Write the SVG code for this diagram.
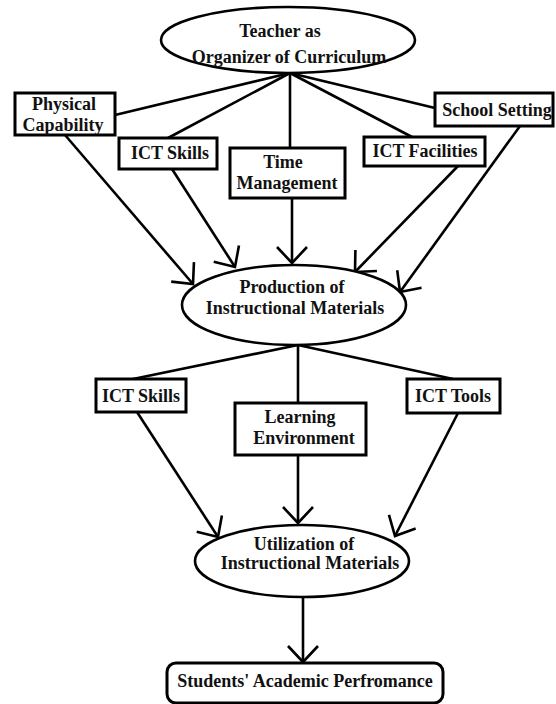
<svg xmlns="http://www.w3.org/2000/svg" width="556" height="704" viewBox="0 0 556 704">
  <defs>
    <marker id="vee" markerUnits="userSpaceOnUse" markerWidth="40" markerHeight="40" viewBox="-20 -20 40 40" refX="0" refY="0" orient="auto">
      <path d="M -16 -15 L 0 0 L -16 15" fill="none" stroke="#000" stroke-width="2.6" stroke-linejoin="miter"/>
    </marker>
  </defs>
  <style>
    .box { fill: #fff; stroke: #000; stroke-width: 3; }
    .oval { fill: #fff; stroke: #000; stroke-width: 2.6; }
    .lbl { font-family: "Liberation Serif", "Times New Roman", serif; font-weight: bold; font-size: 18px; fill: #111; text-anchor: middle; }
    .edge { fill: none; stroke: #000; stroke-width: 2.6; }
    .arrow { marker-end: url(#vee); }
  </style>
  <rect width="556" height="704" fill="#fff"/>

  <!-- connectors -->
  <g id="connectors">
    <!-- fan out from the organizer -->
    <line class="edge" x1="290" y1="73" x2="115" y2="115"/>
    <line class="edge" x1="290" y1="73" x2="168" y2="138"/>
    <line class="edge" x1="290" y1="73" x2="290" y2="148"/>
    <line class="edge" x1="290" y1="73" x2="412" y2="137"/>
    <line class="edge" x1="290" y1="73" x2="435" y2="108"/>
    <!-- factors into production -->
    <line class="edge arrow" x1="65" y1="135" x2="193" y2="284"/>
    <line class="edge arrow" x1="172" y1="169" x2="235" y2="267"/>
    <line class="edge arrow" x1="292" y1="198" x2="292" y2="263"/>
    <line class="edge arrow" x1="458" y1="166" x2="355" y2="272"/>
    <line class="edge arrow" x1="520" y1="126" x2="400" y2="292"/>
    <!-- fan out from production -->
    <line class="edge" x1="298" y1="345" x2="133" y2="379"/>
    <line class="edge" x1="298" y1="345" x2="298" y2="403"/>
    <line class="edge" x1="298" y1="345" x2="453" y2="379"/>
    <!-- factors into utilization -->
    <line class="edge arrow" x1="137" y1="412" x2="218" y2="537"/>
    <line class="edge arrow" x1="298" y1="455" x2="298" y2="523"/>
    <line class="edge arrow" x1="458" y1="413" x2="395" y2="536"/>
    <!-- utilization to performance -->
    <line class="edge arrow" x1="303" y1="597" x2="303" y2="662"/>
  </g>

  <g id="teacher">
    <ellipse class="oval" cx="288" cy="40" rx="127" ry="33" stroke-width="3.6"/>
    <text class="lbl" x="280" y="37">Teacher as</text>
    <text class="lbl" x="289" y="63">Organizer of Curriculum</text>
  </g>

  <g id="physical">
    <rect class="box" x="15" y="93" width="100" height="42"/>
    <text class="lbl" x="64" y="110">Physical</text>
    <text class="lbl" x="63" y="131">Capability</text>
  </g>

  <g id="ict-skills-1">
    <rect class="box" x="119" y="138" width="98" height="31"/>
    <text class="lbl" x="170" y="159">ICT Skills</text>
  </g>

  <g id="time">
    <rect class="box" x="230" y="148" width="115" height="50"/>
    <text class="lbl" x="283" y="168">Time</text>
    <text class="lbl" x="287" y="189">Management</text>
  </g>

  <g id="ict-facilities">
    <rect class="box" x="364" y="137" width="121" height="29"/>
    <text class="lbl" x="425" y="157">ICT Facilities</text>
  </g>

  <g id="school">
    <rect class="box" x="435" y="93" width="118" height="33"/>
    <text class="lbl" x="497" y="116">School Setting</text>
  </g>

  <g id="production">
    <ellipse class="oval" cx="294" cy="305" rx="112" ry="40"/>
    <text class="lbl" x="292" y="293">Production of</text>
    <text class="lbl" x="295" y="314">Instructional Materials</text>
  </g>

  <g id="ict-skills-2">
    <rect class="box" x="96" y="379" width="90" height="33"/>
    <text class="lbl" x="141" y="402">ICT Skills</text>
  </g>

  <g id="environment">
    <rect class="box" x="235" y="403" width="131" height="52"/>
    <text class="lbl" x="300" y="423">Learning</text>
    <text class="lbl" x="304" y="444">Environment</text>
  </g>

  <g id="ict-tools">
    <rect class="box" x="407" y="379" width="93" height="34"/>
    <text class="lbl" x="453" y="402">ICT Tools</text>
  </g>

  <g id="utilization">
    <ellipse class="oval" cx="302" cy="561" rx="107" ry="36"/>
    <text class="lbl" x="304" y="550">Utilization of</text>
    <text class="lbl" x="310" y="569">Instructional Materials</text>
  </g>

  <g id="performance">
    <rect class="box" x="167" y="663" width="276" height="40" rx="9"/>
    <text class="lbl" x="305" y="687">Students' Academic Perfromance</text>
  </g>
</svg>
